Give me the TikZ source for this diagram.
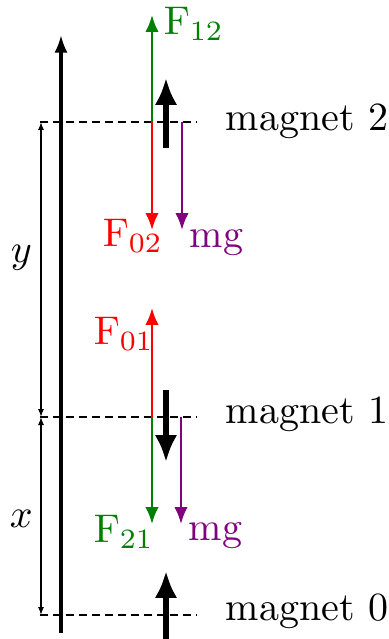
\documentclass[tikz,border=0pt]{standalone}
\usetikzlibrary{arrows.meta}
\definecolor{fgreen}{RGB}{0,128,0}
\definecolor{fred}{RGB}{255,0,0}
\definecolor{fpurple}{RGB}{128,0,128}
\tikzset{
  force/.style={line width=0.55pt,-{Latex[length=4.2pt,width=3.3pt]}},
  magarrow/.style={line width=1.3pt,-{Latex[length=6.7pt,width=5.6pt]}},
  axisline/.style={line width=0.8pt,-{Latex[length=4.4pt,width=3.3pt]}},
  dimline/.style={line width=0.3pt,{Latex[length=2pt,width=1.5pt]}-{Latex[length=2pt,width=1.5pt]}},
  level/.style={line width=0.5pt,dash pattern=on 2pt off 1.25pt},
  lbl/.style={inner sep=0pt,anchor=mid west},
  flbl/.style={inner sep=0pt,anchor=base west}
}
\begin{document}
\begin{tikzpicture}[x=0.25pt,y=-0.25pt]
\useasboundingbox (0,0) rectangle (388,639);
% axis
\coordinate (ab) at (61,633);
\coordinate (at) at (61,35);
\draw[axisline] (ab) -- (at);
% levels
\coordinate (l2a) at (40,122); \coordinate (l2b) at (197,122);
\coordinate (l1a) at (40,417); \coordinate (l1b) at (197,417);
\coordinate (l0a) at (40,615); \coordinate (l0b) at (197,615);
\draw[level] (l2a) -- (l2b);
\draw[level] (l1a) -- (l1b);
\draw[level] (l0a) -- (l0b);
\node[lbl] (m2) at (225,122) {magnet 2};
\node[lbl] (m1) at (225,415) {magnet 1};
\node[lbl] (m0) at (225,612) {magnet 0};
% dimensions
\coordinate (d2) at (41,122); \coordinate (d1) at (41,417); \coordinate (d0) at (41,615);
\draw[dimline] (d2) -- (d1);
\draw[dimline] (d1) -- (d0);
\node[flbl] (ylab) at (10,263) {$y$};
\node[flbl] (xlab) at (9,527) {$x$};
% magnet 2 forces
\coordinate (f2o) at (152,122); \coordinate (f12t) at (152,15); \coordinate (f02t) at (152,230);
\coordinate (g2o) at (182,122); \coordinate (g2t) at (182,230);
\draw[force,fgreen] (f2o) -- (f12t);
\draw[force,fred] (f2o) -- (f02t);
\draw[force,fpurple] (g2o) -- (g2t);
\node[flbl,text=fgreen] (F12) at (163,35) {$\mathrm{F}_{12}$};
\node[flbl,text=fred] (F02) at (102,247) {$\mathrm{F}_{02}$};
\node[flbl,text=fpurple] (mg2) at (189,248) {mg};
% magnet 1 forces
\coordinate (f1o) at (152,417); \coordinate (f01t) at (152,308); \coordinate (f21t) at (152,524);
\coordinate (g1o) at (181,417); \coordinate (g1t) at (181,524);
\draw[force,fred] (f1o) -- (f01t);
\draw[force,fgreen] (f1o) -- (f21t);
\draw[force,fpurple] (g1o) -- (g1t);
\node[flbl,text=fred] (F01) at (93,345) {$\mathrm{F}_{01}$};
\node[flbl,text=fgreen] (F21) at (93,542) {$\mathrm{F}_{21}$};
\node[flbl,text=fpurple] (mg1) at (188,540) {mg};
% magnet orientation arrows
\coordinate (a2s) at (166,148); \coordinate (a2t) at (166,78);
\coordinate (a1s) at (166,390); \coordinate (a1t) at (166,462);
\coordinate (a0s) at (166,645); \coordinate (a0t) at (166,571);
\draw[magarrow] (a2s) -- (a2t);
\draw[magarrow] (a1s) -- (a1t);
\draw[magarrow] (a0s) -- (a0t);
\end{tikzpicture}
\end{document}
